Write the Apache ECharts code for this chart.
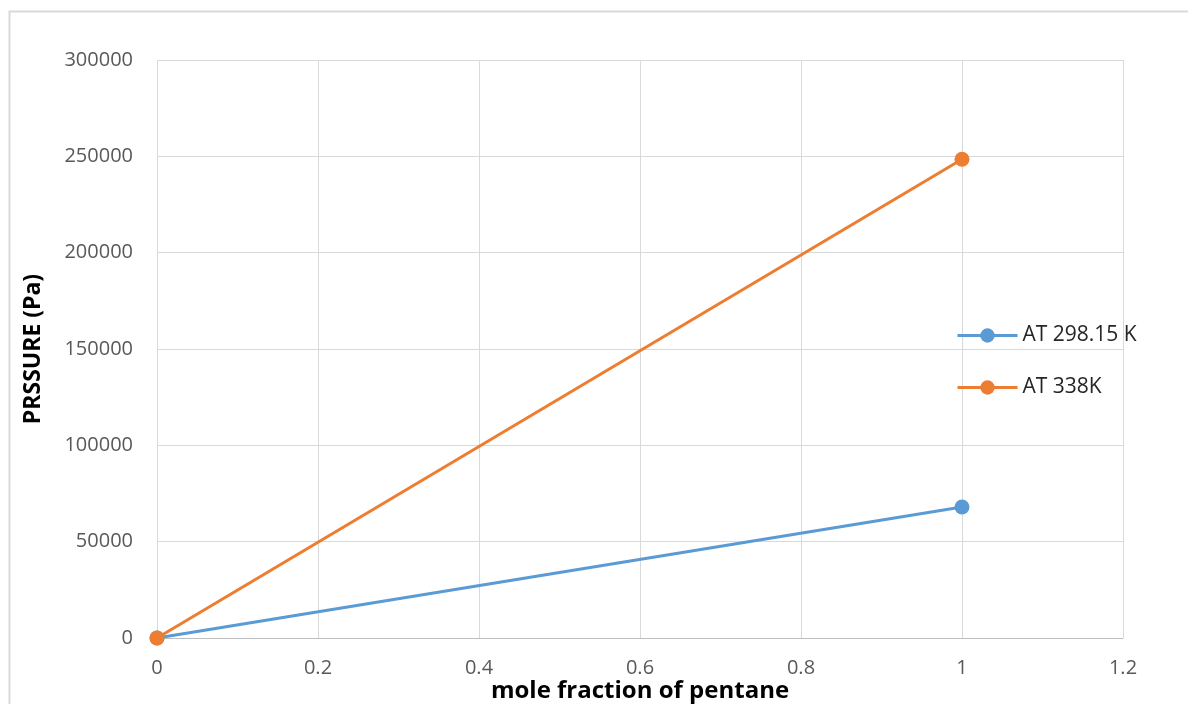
<!DOCTYPE html>
<html>
<head>
<meta charset="utf-8">
<script src="https://cdn.jsdelivr.net/npm/echarts@6/dist/echarts.min.js"></script>
<style>
  html, body { margin: 0; padding: 0; background: #fff; }
  #chart { width: 1188px; height: 704px; }
</style>
</head>
<body>
<div id="chart"></div>
<script>
// Vapour pressure vs mole fraction of pentane at two temperatures
const moleFraction = [0, 1];
const pressure298 = [0, 68000];
const pressure338 = [0, 248500];
const seriesNames = ['AT 298.15 K', 'AT 338K'];
const seriesColors = ['#5B9BD5', '#ED7D31'];

const pairs = (xs, ys) => xs.map((x, i) => [x, ys[i]]);

const chart = echarts.init(document.getElementById('chart'));
const font = 'Open Sans, Liberation Sans, sans-serif';

const makeSeries = (name, ys, color) => ({
  name,
  type: 'line',
  data: pairs(moleFraction, ys),
  symbol: 'circle',
  symbolSize: 15,
  lineStyle: { width: 3, color },
  itemStyle: { color },
  emphasis: { disabled: true },
  z: 3
});

chart.setOption({
  animation: false,
  backgroundColor: '#fff',
  graphic: [{
    type: 'rect',
    shape: { x: 9.5, y: 11.5, width: 1300, height: 800 },
    style: { fill: 'none', stroke: '#d9d9d9', lineWidth: 2 },
    silent: true
  }],
  grid: { left: 157, right: 65, top: 60, bottom: 66, outerBoundsMode: 'none', containLabel: false },
  legend: {
    orient: 'vertical',
    left: 951,
    top: 320,
    itemWidth: 60,
    itemHeight: 18,
    itemGap: 31,
    data: seriesNames,
    lineStyle: { width: 3 },
    textStyle: { fontFamily: font, fontSize: 21, color: '#262626' }
  },
  xAxis: {
    type: 'value',
    min: 0,
    max: 1.2,
    interval: 0.2,
    name: 'mole fraction of pentane',
    nameLocation: 'middle',
    nameGap: 41,
    nameMoveOverlap: false,
    nameTextStyle: { fontFamily: font, fontSize: 24, fontWeight: 'bold', color: '#000' },
    axisLine: { show: true, lineStyle: { color: '#bfbfbf', width: 1 } },
    axisTick: { show: false },
    splitLine: { show: true, lineStyle: { color: '#d9d9d9', width: 1 } },
    axisLabel: { fontFamily: font, fontSize: 20, color: '#595959', margin: 20 }
  },
  yAxis: {
    type: 'value',
    min: 0,
    max: 300000,
    interval: 50000,
    name: 'PRSSURE (Pa)',
    nameLocation: 'middle',
    nameGap: 112,
    nameMoveOverlap: false,
    nameTextStyle: { fontFamily: font, fontSize: 23, fontWeight: 'bold', color: '#000' },
    axisLine: { show: false },
    axisTick: { show: false },
    splitLine: { show: true, lineStyle: { color: '#d9d9d9', width: 1 } },
    axisLabel: {
      fontFamily: font, fontSize: 20, color: '#595959', margin: 24,
      formatter: (v) => String(v)
    }
  },
  series: [
    makeSeries(seriesNames[0], pressure298, seriesColors[0]),
    makeSeries(seriesNames[1], pressure338, seriesColors[1])
  ]
});
</script>
</body>
</html>
